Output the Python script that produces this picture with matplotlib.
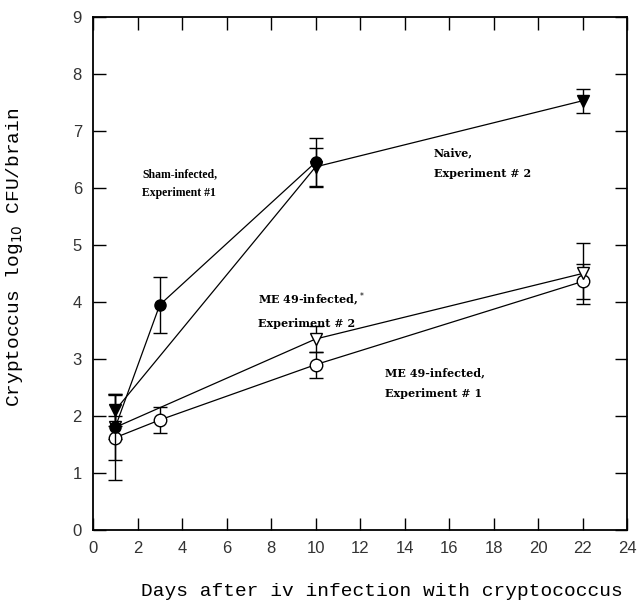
#Curvas de carga de cryptococcus en cerebro

#librerías
import matplotlib.pyplot as plt

#Datos
#Sham-infected, Experiment #1 (círculo lleno)
sham_dias = [1, 3, 10]
sham_val = [1.80, 3.95, 6.45]
sham_err = [0.58, 0.49, 0.43]

#Naive, Experiment #2 (triángulo lleno)
naive_dias = [1, 10, 22]
naive_val = [2.10, 6.37, 7.53]
naive_err = [0.28, 0.33, 0.21]

#ME 49-infected, Experiment #2 (triángulo abierto)
me2_dias = [1, 10, 22]
me2_val = [1.80, 3.35, 4.50]
me2_err = [0.20, 0.22, 0.54]

#ME 49-infected, Experiment #1 (círculo abierto)
me1_dias = [1, 3, 10, 22]
me1_val = [1.62, 1.93, 2.90, 4.36]
me1_err = [0.75, 0.22, 0.23, 0.30]

x_ticks = list(range(0, 25, 2))
y_ticks = list(range(0, 10))

#Figura
fig = plt.figure(figsize=(6.4, 6.05), dpi=100)
ax = fig.add_axes([0.1453, 0.124, 0.8347, 0.848])

estilo = dict(color="black", lw=0.9, capsize=5, elinewidth=1.0, capthick=1.0)

ax.errorbar(me1_dias, me1_val, yerr=me1_err, fmt="-o", ms=9, mfc="white",
            mec="black", mew=1.0, zorder=3, **estilo)
ax.errorbar(me2_dias, me2_val, yerr=me2_err, fmt="-v", ms=8, mfc="white",
            mec="black", mew=1.0, zorder=3, **estilo)
ax.errorbar(naive_dias, naive_val, yerr=naive_err, fmt="-v", ms=8, mfc="black",
            mec="black", zorder=4, **estilo)
ax.errorbar(sham_dias, sham_val, yerr=sham_err, fmt="-o", ms=8, mfc="black",
            mec="black", zorder=5, **estilo)

#Textos
fuente = dict(fontweight="bold", va="top", ha="left")
ax.text(2.2, 6.35, "Sham-infected,\nExperiment #1", family="Liberation Serif",
        fontsize=8.5, linespacing=1.75, **fuente)
ax.text(15.3, 6.72, "Naive,\nExperiment # 2", family="DejaVu Serif",
        fontsize=8, linespacing=2.1, **fuente)
ax.text(7.4, 4.20, "ME 49-infected,$^*$\nExperiment # 2", family="DejaVu Serif",
        fontsize=8, linespacing=2.1, **fuente)
ax.text(13.1, 2.85, "ME 49-infected,\nExperiment # 1", family="DejaVu Serif",
        fontsize=8, linespacing=2.1, **fuente)

#Ejes
ax.set_xlim(0, 24)
ax.set_ylim(0, 9)
ax.set_xticks(x_ticks)
ax.set_yticks(y_ticks)
ax.tick_params(direction="in", length=9, width=1.0, top=True, right=True,
               labelsize=12, pad=8, colors="black", labelcolor="#333333")
for t in ax.get_xticklabels() + ax.get_yticklabels():
    t.set_family("Liberation Sans")
for s in ax.spines.values():
    s.set_linewidth(1.3)

ax.set_xlabel("Days after iv infection with cryptococcus", family="Liberation Mono",
              fontsize=14)
ax.set_ylabel("Cryptoccus log$_{10}$ CFU/brain", family="Liberation Mono",
              fontsize=14)
ax.xaxis.set_label_coords(0.541, -0.103)
ax.yaxis.set_label_coords(-0.127, 0.532)

plt.savefig("out.png", dpi=100)
